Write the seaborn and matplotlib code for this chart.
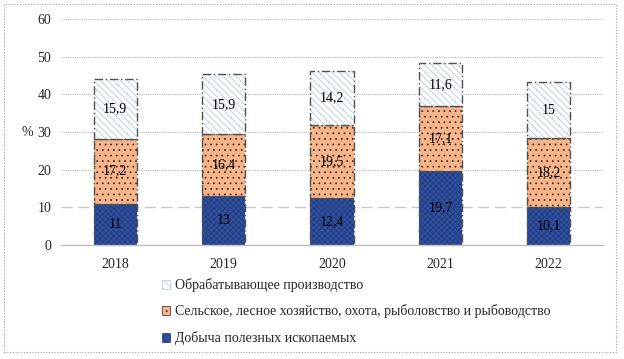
import matplotlib
matplotlib.use("Agg")
import matplotlib.pyplot as plt
import seaborn as sns
import numpy as np
import pandas as pd
from matplotlib.patches import Rectangle, Patch

years = ["2018", "2019", "2020", "2021", "2022"]
mining = [11, 13, 12.4, 19.7, 10.1]
agri = [17.2, 16.4, 19.5, 17.1, 18.2]
manuf = [15.9, 15.9, 14.2, 11.6, 15]
labels_mining = ["11", "13", "12,4", "19,7", "10,1"]
labels_agri = ["17,2", "16,4", "19,5", "17,1", "18,2"]
labels_manuf = ["15,9", "15,9", "14,2", "11,6", "15"]
series_names = ["Обрабатывающее производство",
                "Сельское, лесное хозяйство, охота, рыболовство и рыбоводство",
                "Добыча полезных ископаемых"]
yticks = [0, 10, 20, 30, 40, 50, 60]

sns.set_theme(style="white")
plt.rcParams['font.family'] = ['Liberation Serif', 'DejaVu Serif']
plt.rcParams['hatch.linewidth'] = 0.5

fig = plt.figure(figsize=(6.24, 3.59), dpi=100)
ax = fig.add_axes([61/624, 1-245/359, 542/624, 226/359])

df = pd.DataFrame({"year": years, "mining": mining, "agri": agri, "manuf": manuf})
bottom_agri = np.array(mining)
bottom_manuf = np.array(mining) + np.array(agri)

layers = [
    ("mining", None, "#2F4F9F", "#22397A", "xxxxxx"),
    ("agri", bottom_agri, "#F6B48A", "#3a2418", "..."),
    ("manuf", bottom_manuf, "white", "#A9C4E4", "\\\\\\\\\\"),
]
W = 0.4
for col, bot, fc, hc, hatch in layers:
    kw = {}
    if bot is not None:
        kw["bottom"] = bot
    sns.barplot(data=df, x="year", y=col, ax=ax, width=W, color=fc,
                saturation=1, hatch=hatch, edgecolor=hc, linewidth=0, **kw)
    sns.barplot(data=df, x="year", y=col, ax=ax, width=W, color="white", fill=False,
                edgecolor="#505050", linewidth=1.0, linestyle=(0, (6, 2, 1, 2)), **kw)

b0 = np.zeros(len(years))
for vals, labs in [(mining, labels_mining), (agri, labels_agri), (manuf, labels_manuf)]:
    for i, (v, l) in enumerate(zip(vals, labs)):
        ax.text(i, b0[i] + v / 2, l, ha="center", va="center", fontsize=10, color="black")
    b0 = b0 + np.array(vals)

ax.set_ylim(0, 60)
ax.set_xlim(-0.5, 4.5)
ax.set_yticks(yticks)
ax.set_yticklabels([str(t) for t in yticks], fontsize=10)
ax.tick_params(axis="x", labelsize=10, length=0, pad=9)
ax.tick_params(axis="y", length=0, pad=7)
ax.set_xlabel("")
ax.set_ylabel("%", rotation=0, fontsize=10, labelpad=7, va="center")
for t in yticks[1:]:
    if t == 10:
        ax.axhline(t, color="#c8c8c8", lw=1.0, ls=(0, (8, 4)), zorder=0)
    else:
        ax.axhline(t, color="#b8b8b8", lw=0.8, ls=(0, (1, 1)), zorder=0)
for s in ["top", "right", "left"]:
    ax.spines[s].set_visible(False)
ax.spines["bottom"].set_color("#c0c0c0")
ax.spines["bottom"].set_linewidth(1.0)
ax.set_axisbelow(True)

handles = [
    Patch(facecolor="white", edgecolor="#A9C4E4", hatch="\\\\\\\\", linewidth=0.5),
    Patch(facecolor="#F6B48A", edgecolor="#3a2418", hatch="...", linewidth=0.5),
    Patch(facecolor="#2F4F9F", edgecolor="#22397A", hatch="xxxx", linewidth=0.5),
]
leg = fig.legend(handles, series_names, loc="upper left", bbox_to_anchor=(162/624, 1-278/359),
                 frameon=False, fontsize=10, handlelength=0.6, handleheight=0.6,
                 handletextpad=0.35, labelspacing=0.9, borderaxespad=0, borderpad=0)

fig.patches.append(Rectangle((4/624, 1-352/359), 612/624, 348/359, transform=fig.transFigure,
                             fill=False, edgecolor="#a0a0a0", lw=0.8, ls=(0, (1, 1.5))))

fig.savefig("out.png", dpi=100)
